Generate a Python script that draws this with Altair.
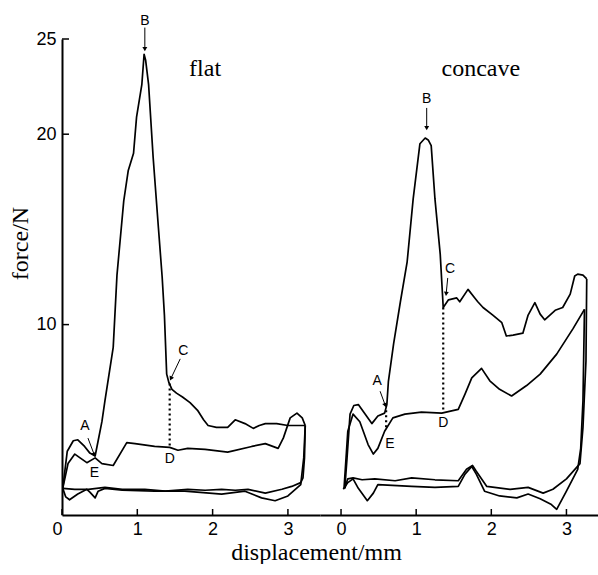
import math
import altair as alt
import pandas as pd

# ---------------- data: "flat" panel ----------------
flat_load1_x = [0.01, 0.07, 0.15, 0.21, 0.30, 0.37, 0.44, 0.48, 0.53, 0.57, 0.68, 0.73, 0.82, 0.88, 0.95, 0.99, 1.06, 1.09, 1.11, 1.15,
                1.21, 1.28, 1.33, 1.36, 1.39, 1.42, 1.46, 1.52, 1.60, 1.70, 1.80, 1.88, 1.94, 2.05, 2.20, 2.30, 2.43, 2.54, 2.62, 2.70,
                2.85, 3.00, 3.12, 3.23]
flat_load1_y = [1.4, 3.35, 3.9, 3.95, 3.6, 3.25, 3.1, 3.9, 4.9, 6.0, 8.8, 12.6, 16.5, 18.1, 19.0, 20.9, 22.6, 24.2, 23.9, 22.6,
                18.8, 15.1, 12.5, 10.5, 7.4, 6.95, 6.6, 6.4, 6.2, 5.9, 5.5, 5.0, 4.7, 4.6, 4.6, 5.0, 4.8, 4.55, 4.7, 4.8,
                4.8, 4.7, 4.7, 4.7]
flat_unload1_x = [3.23, 3.22, 3.20, 3.17, 3.05, 2.92, 2.70, 2.47, 2.30, 2.12, 1.90, 1.67, 1.37, 1.10, 0.80, 0.57, 0.35, 0.17, 0.01]
flat_unload1_y = [4.7, 3.0, 1.95, 1.7, 1.5, 1.35, 1.15, 1.35, 1.3, 1.35, 1.3, 1.35, 1.25, 1.35, 1.35, 1.45, 1.35, 1.35, 1.4]
flat_load2_x = [0.01, 0.08, 0.17, 0.24, 0.33, 0.44, 0.53, 0.68, 0.86, 0.97, 1.23, 1.43, 1.54, 1.67, 1.90, 2.20, 2.52, 2.70,
                2.87, 2.94, 3.03, 3.12, 3.19, 3.23]
flat_load2_y = [1.4, 2.7, 3.2, 3.0, 2.75, 3.0, 2.7, 2.6, 3.8, 3.75, 3.6, 3.55, 3.4, 3.5, 3.45, 3.3, 3.6, 3.75,
                3.5, 4.05, 5.1, 5.35, 5.1, 4.7]
flat_unload2_x = [3.23, 3.21, 3.17, 3.00, 2.83, 2.65, 2.43, 2.12, 1.63, 1.23, 0.80, 0.57, 0.48, 0.44, 0.37, 0.33, 0.21, 0.10, 0.05, 0.01]
flat_unload2_y = [4.7, 3.0, 1.6, 1.0, 0.75, 0.9, 1.25, 1.1, 1.25, 1.25, 1.3, 1.4, 1.25, 0.9, 1.2, 1.35, 1.1, 0.8, 0.95, 1.4]

flat_lbl_text = ["B", "A", "E", "C", "D"]
flat_lbl_x = [1.10, 0.305, 0.43, 1.61, 1.43]
flat_lbl_y = [25.95, 4.67, 2.2, 8.6, 2.95]
flat_arr_x = [1.10, 0.345, 1.57]
flat_arr_y = [25.6, 4.04, 8.2]
flat_arr_x2 = [1.10, 0.425, 1.45]
flat_arr_y2 = [24.5, 3.2, 7.2]
flat_dot_x = [1.43]
flat_dot_y = [6.9]
flat_dot_y2 = [3.55]
flat_name = "flat"
flat_name_x = 1.90
flat_name_y = 23.06

# ---------------- data: "concave" panel ----------------
conc_load1_x = [0.05, 0.08, 0.12, 0.17, 0.23, 0.32, 0.41, 0.49, 0.58, 0.61, 0.63, 0.70, 0.79, 0.88, 0.96, 1.05, 1.12, 1.16, 1.20, 1.25,
                1.32, 1.36, 1.43, 1.54, 1.58, 1.69, 1.78, 1.82, 1.89, 2.02, 2.14, 2.20, 2.29, 2.42, 2.49, 2.58, 2.65, 2.71, 2.85, 2.95,
                3.05, 3.11, 3.15, 3.22, 3.27]
conc_load1_y = [1.4, 3.0, 5.3, 5.75, 5.8, 5.3, 4.8, 5.2, 5.35, 5.8, 7.0, 9.0, 11.2, 13.3, 16.6, 19.5, 19.8, 19.7, 19.4, 16.6,
                13.7, 10.9, 11.3, 11.4, 11.2, 11.85, 11.4, 11.2, 10.9, 10.5, 10.1, 9.4, 9.45, 9.55, 10.5, 11.15, 10.55, 10.25, 10.75, 10.9,
                11.6, 12.55, 12.65, 12.6, 12.4]
conc_unload1_x = [3.27, 3.26, 3.22, 3.18, 3.00, 2.82, 2.69, 2.49, 2.25, 1.94, 1.80, 1.75, 1.67, 1.56, 1.25, 0.94, 0.72, 0.45,
                  0.28, 0.16, 0.09, 0.05]
conc_unload1_y = [12.4, 8.1, 4.6, 2.7, 1.9, 1.35, 1.15, 1.45, 1.35, 1.5, 2.3, 2.6, 2.4, 1.8, 1.85, 1.95, 1.8, 1.9,
                  1.85, 1.95, 1.9, 1.4]
conc_load2_x = [0.04, 0.09, 0.16, 0.25, 0.36, 0.43, 0.49, 0.58, 0.69, 0.85, 1.07, 1.34, 1.56, 1.65, 1.74, 1.87, 1.98, 2.11,
                2.27, 2.47, 2.65, 2.87, 3.09, 3.24]
conc_load2_y = [1.4, 4.4, 5.3, 4.9, 3.7, 3.2, 3.5, 4.4, 5.1, 5.3, 5.4, 5.35, 5.55, 6.35, 7.2, 7.7, 7.05, 6.6,
                6.25, 6.8, 7.4, 8.45, 9.8, 10.8]
conc_unload2_x = [3.24, 3.22, 3.19, 3.15, 3.00, 2.87, 2.80, 2.65, 2.49, 2.34, 2.11, 1.91, 1.80, 1.74, 1.65, 1.56, 1.25, 0.94,
                  0.49, 0.43, 0.35, 0.23, 0.16, 0.09, 0.03]
conc_unload2_y = [10.8, 6.0, 3.5, 2.4, 1.25, 0.3, 0.55, 0.85, 1.1, 0.9, 1.0, 1.25, 2.15, 2.55, 2.15, 1.5, 1.45, 1.5,
                  1.6, 1.15, 0.75, 1.4, 1.9, 1.7, 1.35]

conc_lbl_text = ["B", "C", "A", "E", "D"]
conc_lbl_x = [1.14, 1.45, 0.48, 0.65, 1.36]
conc_lbl_y = [21.85, 12.92, 7.04, 3.73, 4.83]
conc_arr_x = [1.14, 1.42, 0.52]
conc_arr_y = [21.38, 12.45, 6.5]
conc_arr_x2 = [1.14, 1.40, 0.585]
conc_arr_y2 = [20.35, 11.65, 5.8]
conc_dot_x = [0.60, 1.36]
conc_dot_y = [5.5, 10.9]
conc_dot_y2 = [4.5, 5.5]
conc_name = "concave"
conc_name_x = 1.86
conc_name_y = 23.06

x_ticks = [0, 1, 2, 3]
y_ticks = [10, 20, 25]

# ---------------- layout / style ----------------
H = 476
W_LEFT = 258
W_RIGHT = 278
Y_DOM = [0, 25]
X_DOM_LEFT = [0, 3.426]
X_DOM_RIGHT = [-0.28, 3.42]
SERIF = "Liberation Serif"
SANS = "Liberation Sans"


def curves_df(curves):
    rows = []
    for name, xs, ys in curves:
        for i, (a, b) in enumerate(zip(xs, ys)):
            rows.append({"curve": name, "idx": i, "x": a, "y": b})
    return pd.DataFrame(rows)


def panel(curves, lbl, arr, dots, name, w, xdom, left):
    xs = alt.Scale(domain=xdom, nice=False, zero=False)
    ys = alt.Scale(domain=Y_DOM, nice=False, zero=False)
    sx = w / (xdom[1] - xdom[0])
    sy = H / (Y_DOM[1] - Y_DOM[0])

    xaxis_kw = dict(values=x_ticks, ticks=False, tickSize=0, grid=False, labelFont=SANS, labelFontSize=18,
                    labelPadding=5, labelColor="black", domainColor="black", domainWidth=2, format="d")
    if left:
        xaxis = alt.Axis(title="displacement/mm", titleFont=SERIF, titleFontSize=24, titleFontWeight="normal",
                         titleColor="black", titleX=254, titleY=44, titleAlign="center", titleBaseline="alphabetic",
                         labelAlign={"condition": {"test": "datum.value == 0", "value": "right"}, "value": "center"},
                         **xaxis_kw)
        yaxis = alt.Axis(values=y_ticks, ticks=False, tickSize=0, grid=False, labelFont=SANS, labelFontSize=18,
                         labelPadding=6, labelColor="black", domainColor="black", domainWidth=2,
                         title="force/N", titleFont=SERIF, titleFontSize=24, titleFontWeight="normal",
                         titleColor="black", titleX=-54, titleY=204, titleAngle=270, titleAlign="center",
                         titleBaseline="top")
    else:
        xaxis = alt.Axis(title="", **xaxis_kw)
        yaxis = None

    def X(f):
        return alt.X(f, scale=xs, axis=xaxis)

    def Y(f):
        return alt.Y(f, scale=ys, axis=yaxis)

    df = curves_df(curves)
    lines = alt.Chart(df).mark_line(color="black", strokeWidth=1.7, strokeJoin="round").encode(
        x=X("x:Q"), y=Y("y:Q"), detail="curve:N", order="idx:Q")

    ldf = pd.DataFrame({"t": lbl[0], "x": lbl[1], "y": lbl[2]})
    labels = alt.Chart(ldf).mark_text(font=SANS, fontSize=14, color="black").encode(
        x=X("x:Q"), y=Y("y:Q"), text="t:N")

    adf = pd.DataFrame({"x": arr[0], "y": arr[1], "x2": arr[2], "y2": arr[3]})
    adf["ang"] = [(math.degrees(math.atan2((a2 - a1) * sx, (b2 - b1) * sy)) + 360) % 360
                  for a1, b1, a2, b2 in zip(arr[0], arr[1], arr[2], arr[3])]
    arrows = alt.Chart(adf).mark_rule(color="black", strokeWidth=1).encode(
        x=X("x:Q"), y=Y("y:Q"), x2="x2:Q", y2="y2:Q")
    heads = alt.Chart(adf).mark_point(shape="triangle", filled=True, size=24, color="black", opacity=1).encode(
        x=X("x2:Q"), y=Y("y2:Q"), angle=alt.Angle("ang:Q", scale=None))

    ddf = pd.DataFrame({"x": dots[0], "y": dots[1], "y2": dots[2]})
    dotted = alt.Chart(ddf).mark_rule(color="black", strokeWidth=2.2, strokeDash=[2, 3]).encode(
        x=X("x:Q"), y=Y("y:Q"), y2="y2:Q")

    ndf = pd.DataFrame({"t": [name[0]], "x": [name[1]], "y": [name[2]]})
    title = alt.Chart(ndf).mark_text(font=SERIF, fontSize=24, color="black", baseline="alphabetic").encode(
        x=X("x:Q"), y=Y("y:Q"), text="t:N")

    xt = alt.Chart(pd.DataFrame({"x": x_ticks})).mark_rule(color="black", strokeWidth=1.5).encode(
        x=X("x:Q"), y=alt.value(H), y2=alt.value(H - 6))
    layers = [lines, dotted, arrows, heads, labels, title, xt]
    if left:
        yt = alt.Chart(pd.DataFrame({"y": y_ticks})).mark_rule(color="black", strokeWidth=1.5).encode(
            y=Y("y:Q"), x=alt.value(0), x2=alt.value(7))
        layers.append(yt)
    return alt.layer(*layers).properties(width=w, height=H)


left = panel(
    [("load1", flat_load1_x, flat_load1_y), ("unload1", flat_unload1_x, flat_unload1_y),
     ("load2", flat_load2_x, flat_load2_y), ("unload2", flat_unload2_x, flat_unload2_y)],
    (flat_lbl_text, flat_lbl_x, flat_lbl_y),
    (flat_arr_x, flat_arr_y, flat_arr_x2, flat_arr_y2),
    (flat_dot_x, flat_dot_y, flat_dot_y2),
    (flat_name, flat_name_x, flat_name_y), W_LEFT, X_DOM_LEFT, True)

right = panel(
    [("load1", conc_load1_x, conc_load1_y), ("unload1", conc_unload1_x, conc_unload1_y),
     ("load2", conc_load2_x, conc_load2_y), ("unload2", conc_unload2_x, conc_unload2_y)],
    (conc_lbl_text, conc_lbl_x, conc_lbl_y),
    (conc_arr_x, conc_arr_y, conc_arr_x2, conc_arr_y2),
    (conc_dot_x, conc_dot_y, conc_dot_y2),
    (conc_name, conc_name_x, conc_name_y), W_RIGHT, X_DOM_RIGHT, False)

chart = alt.hconcat(left, right, spacing=0, bounds="flush").properties(
    padding={"left": 8, "top": 13, "right": 0, "bottom": 0}, background="white"
).configure_view(stroke=None)

chart.save("out.html", embed_options={"renderer": "svg", "actions": False})
